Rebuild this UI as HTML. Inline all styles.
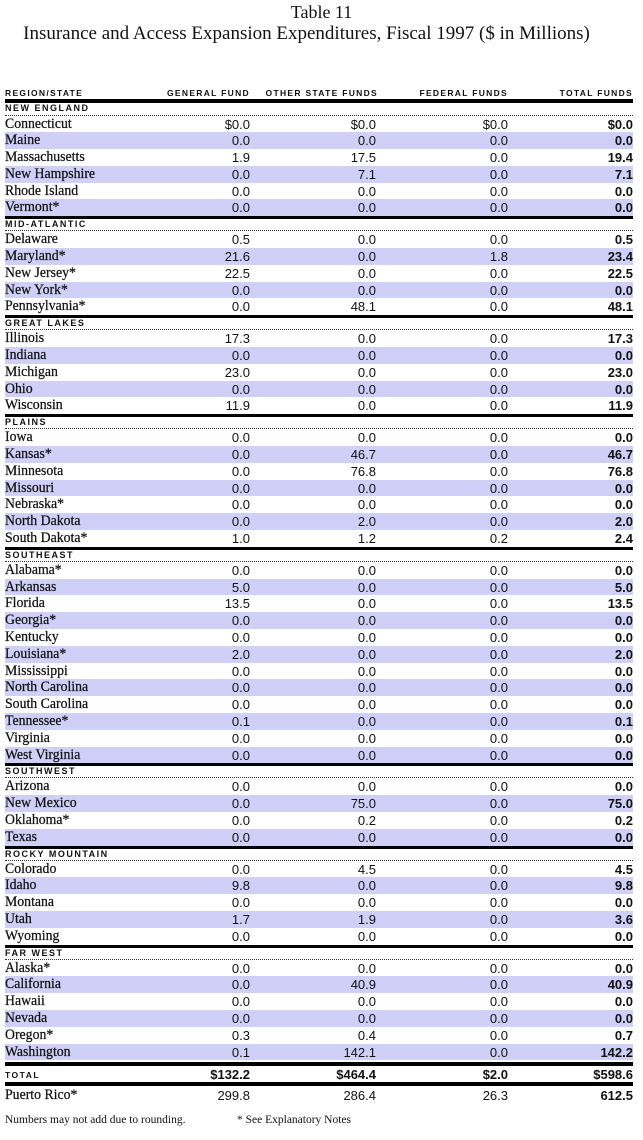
<!DOCTYPE html>
<html><head><meta charset="utf-8"><style>
*{margin:0;padding:0;box-sizing:border-box}
body{width:643px;height:1140px;background:#fff;position:relative;overflow:hidden;font-family:"Liberation Serif",serif;color:#111}
.t1{position:absolute;top:2px;left:0;width:643px;text-align:center;font-size:18px}
.t2{position:absolute;top:23px;left:-15px;width:643px;text-align:center;font-size:19px}
.hdr{position:absolute;top:87px;left:5px;width:628px;height:16px;border-bottom:4px solid #000;font:bold 8.5px "Liberation Sans",sans-serif;letter-spacing:1.3px}
.hdr span{position:absolute;top:1px}
#tb{position:absolute;top:103px;left:5px;width:628px}
.r{height:16.8px;position:relative;font-size:15px;line-height:17px}
.r.s{background:#cfcff8}
.r .n{position:absolute;left:0;top:0;transform:scaleX(.92);transform-origin:left;-webkit-text-stroke:0.25px #111}
.r .v{position:absolute;top:0;font:13px/17px "Liberation Sans",sans-serif;text-align:right;width:80px}
.r .v.b{font-weight:bold}
.c1{right:383px}.c2{right:257px}.c3{right:125px}.c4{right:0}
.g{height:15px;border-top:3px solid #000;border-bottom:1px dotted #333;font:bold 9px/10px "Liberation Sans",sans-serif;letter-spacing:1.5px}
.g.f{border-top:none;height:12.5px}
.tot{position:absolute;top:1062px;left:5px;width:628px;height:24px;border-top:4px solid #000;border-bottom:4px solid #000}
.tot span{position:absolute;top:1px;font:bold 13px "Liberation Sans",sans-serif}
.pr{position:absolute;top:1087px;left:5px;width:628px}
.foot{position:absolute;top:1114px;font-size:11.5px}
</style></head><body>
<div class="t1">Table 11</div>
<div class="t2">Insurance and Access Expansion Expenditures, Fiscal 1997 ($ in Millions)</div>
<div class="hdr"><span style="left:0">REGION/STATE</span><span style="right:383px">GENERAL FUND</span><span style="right:255px">OTHER STATE FUNDS</span><span style="right:125px">FEDERAL FUNDS</span><span style="right:0">TOTAL FUNDS</span></div>
<div id="tb">
<div class="g f">NEW ENGLAND</div>
<div class="r"><span class="n">Connecticut</span><span class="v c1">$0.0</span><span class="v c2">$0.0</span><span class="v c3">$0.0</span><span class="v c4 b">$0.0</span></div>
<div class="r s"><span class="n">Maine</span><span class="v c1">0.0</span><span class="v c2">0.0</span><span class="v c3">0.0</span><span class="v c4 b">0.0</span></div>
<div class="r"><span class="n">Massachusetts</span><span class="v c1">1.9</span><span class="v c2">17.5</span><span class="v c3">0.0</span><span class="v c4 b">19.4</span></div>
<div class="r s"><span class="n">New Hampshire</span><span class="v c1">0.0</span><span class="v c2">7.1</span><span class="v c3">0.0</span><span class="v c4 b">7.1</span></div>
<div class="r"><span class="n">Rhode Island</span><span class="v c1">0.0</span><span class="v c2">0.0</span><span class="v c3">0.0</span><span class="v c4 b">0.0</span></div>
<div class="r s"><span class="n">Vermont*</span><span class="v c1">0.0</span><span class="v c2">0.0</span><span class="v c3">0.0</span><span class="v c4 b">0.0</span></div>
<div class="g">MID-ATLANTIC</div>
<div class="r"><span class="n">Delaware</span><span class="v c1">0.5</span><span class="v c2">0.0</span><span class="v c3">0.0</span><span class="v c4 b">0.5</span></div>
<div class="r s"><span class="n">Maryland*</span><span class="v c1">21.6</span><span class="v c2">0.0</span><span class="v c3">1.8</span><span class="v c4 b">23.4</span></div>
<div class="r"><span class="n">New Jersey*</span><span class="v c1">22.5</span><span class="v c2">0.0</span><span class="v c3">0.0</span><span class="v c4 b">22.5</span></div>
<div class="r s"><span class="n">New York*</span><span class="v c1">0.0</span><span class="v c2">0.0</span><span class="v c3">0.0</span><span class="v c4 b">0.0</span></div>
<div class="r"><span class="n">Pennsylvania*</span><span class="v c1">0.0</span><span class="v c2">48.1</span><span class="v c3">0.0</span><span class="v c4 b">48.1</span></div>
<div class="g">GREAT LAKES</div>
<div class="r"><span class="n">Illinois</span><span class="v c1">17.3</span><span class="v c2">0.0</span><span class="v c3">0.0</span><span class="v c4 b">17.3</span></div>
<div class="r s"><span class="n">Indiana</span><span class="v c1">0.0</span><span class="v c2">0.0</span><span class="v c3">0.0</span><span class="v c4 b">0.0</span></div>
<div class="r"><span class="n">Michigan</span><span class="v c1">23.0</span><span class="v c2">0.0</span><span class="v c3">0.0</span><span class="v c4 b">23.0</span></div>
<div class="r s"><span class="n">Ohio</span><span class="v c1">0.0</span><span class="v c2">0.0</span><span class="v c3">0.0</span><span class="v c4 b">0.0</span></div>
<div class="r"><span class="n">Wisconsin</span><span class="v c1">11.9</span><span class="v c2">0.0</span><span class="v c3">0.0</span><span class="v c4 b">11.9</span></div>
<div class="g">PLAINS</div>
<div class="r"><span class="n">Iowa</span><span class="v c1">0.0</span><span class="v c2">0.0</span><span class="v c3">0.0</span><span class="v c4 b">0.0</span></div>
<div class="r s"><span class="n">Kansas*</span><span class="v c1">0.0</span><span class="v c2">46.7</span><span class="v c3">0.0</span><span class="v c4 b">46.7</span></div>
<div class="r"><span class="n">Minnesota</span><span class="v c1">0.0</span><span class="v c2">76.8</span><span class="v c3">0.0</span><span class="v c4 b">76.8</span></div>
<div class="r s"><span class="n">Missouri</span><span class="v c1">0.0</span><span class="v c2">0.0</span><span class="v c3">0.0</span><span class="v c4 b">0.0</span></div>
<div class="r"><span class="n">Nebraska*</span><span class="v c1">0.0</span><span class="v c2">0.0</span><span class="v c3">0.0</span><span class="v c4 b">0.0</span></div>
<div class="r s"><span class="n">North Dakota</span><span class="v c1">0.0</span><span class="v c2">2.0</span><span class="v c3">0.0</span><span class="v c4 b">2.0</span></div>
<div class="r"><span class="n">South Dakota*</span><span class="v c1">1.0</span><span class="v c2">1.2</span><span class="v c3">0.2</span><span class="v c4 b">2.4</span></div>
<div class="g">SOUTHEAST</div>
<div class="r"><span class="n">Alabama*</span><span class="v c1">0.0</span><span class="v c2">0.0</span><span class="v c3">0.0</span><span class="v c4 b">0.0</span></div>
<div class="r s"><span class="n">Arkansas</span><span class="v c1">5.0</span><span class="v c2">0.0</span><span class="v c3">0.0</span><span class="v c4 b">5.0</span></div>
<div class="r"><span class="n">Florida</span><span class="v c1">13.5</span><span class="v c2">0.0</span><span class="v c3">0.0</span><span class="v c4 b">13.5</span></div>
<div class="r s"><span class="n">Georgia*</span><span class="v c1">0.0</span><span class="v c2">0.0</span><span class="v c3">0.0</span><span class="v c4 b">0.0</span></div>
<div class="r"><span class="n">Kentucky</span><span class="v c1">0.0</span><span class="v c2">0.0</span><span class="v c3">0.0</span><span class="v c4 b">0.0</span></div>
<div class="r s"><span class="n">Louisiana*</span><span class="v c1">2.0</span><span class="v c2">0.0</span><span class="v c3">0.0</span><span class="v c4 b">2.0</span></div>
<div class="r"><span class="n">Mississippi</span><span class="v c1">0.0</span><span class="v c2">0.0</span><span class="v c3">0.0</span><span class="v c4 b">0.0</span></div>
<div class="r s"><span class="n">North Carolina</span><span class="v c1">0.0</span><span class="v c2">0.0</span><span class="v c3">0.0</span><span class="v c4 b">0.0</span></div>
<div class="r"><span class="n">South Carolina</span><span class="v c1">0.0</span><span class="v c2">0.0</span><span class="v c3">0.0</span><span class="v c4 b">0.0</span></div>
<div class="r s"><span class="n">Tennessee*</span><span class="v c1">0.1</span><span class="v c2">0.0</span><span class="v c3">0.0</span><span class="v c4 b">0.1</span></div>
<div class="r"><span class="n">Virginia</span><span class="v c1">0.0</span><span class="v c2">0.0</span><span class="v c3">0.0</span><span class="v c4 b">0.0</span></div>
<div class="r s"><span class="n">West Virginia</span><span class="v c1">0.0</span><span class="v c2">0.0</span><span class="v c3">0.0</span><span class="v c4 b">0.0</span></div>
<div class="g">SOUTHWEST</div>
<div class="r"><span class="n">Arizona</span><span class="v c1">0.0</span><span class="v c2">0.0</span><span class="v c3">0.0</span><span class="v c4 b">0.0</span></div>
<div class="r s"><span class="n">New Mexico</span><span class="v c1">0.0</span><span class="v c2">75.0</span><span class="v c3">0.0</span><span class="v c4 b">75.0</span></div>
<div class="r"><span class="n">Oklahoma*</span><span class="v c1">0.0</span><span class="v c2">0.2</span><span class="v c3">0.0</span><span class="v c4 b">0.2</span></div>
<div class="r s"><span class="n">Texas</span><span class="v c1">0.0</span><span class="v c2">0.0</span><span class="v c3">0.0</span><span class="v c4 b">0.0</span></div>
<div class="g">ROCKY MOUNTAIN</div>
<div class="r"><span class="n">Colorado</span><span class="v c1">0.0</span><span class="v c2">4.5</span><span class="v c3">0.0</span><span class="v c4 b">4.5</span></div>
<div class="r s"><span class="n">Idaho</span><span class="v c1">9.8</span><span class="v c2">0.0</span><span class="v c3">0.0</span><span class="v c4 b">9.8</span></div>
<div class="r"><span class="n">Montana</span><span class="v c1">0.0</span><span class="v c2">0.0</span><span class="v c3">0.0</span><span class="v c4 b">0.0</span></div>
<div class="r s"><span class="n">Utah</span><span class="v c1">1.7</span><span class="v c2">1.9</span><span class="v c3">0.0</span><span class="v c4 b">3.6</span></div>
<div class="r"><span class="n">Wyoming</span><span class="v c1">0.0</span><span class="v c2">0.0</span><span class="v c3">0.0</span><span class="v c4 b">0.0</span></div>
<div class="g">FAR WEST</div>
<div class="r"><span class="n">Alaska*</span><span class="v c1">0.0</span><span class="v c2">0.0</span><span class="v c3">0.0</span><span class="v c4 b">0.0</span></div>
<div class="r s"><span class="n">California</span><span class="v c1">0.0</span><span class="v c2">40.9</span><span class="v c3">0.0</span><span class="v c4 b">40.9</span></div>
<div class="r"><span class="n">Hawaii</span><span class="v c1">0.0</span><span class="v c2">0.0</span><span class="v c3">0.0</span><span class="v c4 b">0.0</span></div>
<div class="r s"><span class="n">Nevada</span><span class="v c1">0.0</span><span class="v c2">0.0</span><span class="v c3">0.0</span><span class="v c4 b">0.0</span></div>
<div class="r"><span class="n">Oregon*</span><span class="v c1">0.3</span><span class="v c2">0.4</span><span class="v c3">0.0</span><span class="v c4 b">0.7</span></div>
<div class="r s"><span class="n">Washington</span><span class="v c1">0.1</span><span class="v c2">142.1</span><span class="v c3">0.0</span><span class="v c4 b">142.2</span></div>
</div>
<div class="tot"><span style="left:0;font-size:8.5px;letter-spacing:1.5px;top:4px">TOTAL</span><span style="right:383px">$132.2</span><span style="right:257px">$464.4</span><span style="right:125px">$2.0</span><span style="right:0">$598.6</span></div>
<div class="pr r"><span class="n">Puerto Rico*</span><span class="v c1">299.8</span><span class="v c2">286.4</span><span class="v c3">26.3</span><span class="v c4 b">612.5</span></div>
<div class="foot" style="left:5px">Numbers may not add due to rounding.</div>
<div class="foot" style="left:237px">* See Explanatory Notes</div>
</body></html>
